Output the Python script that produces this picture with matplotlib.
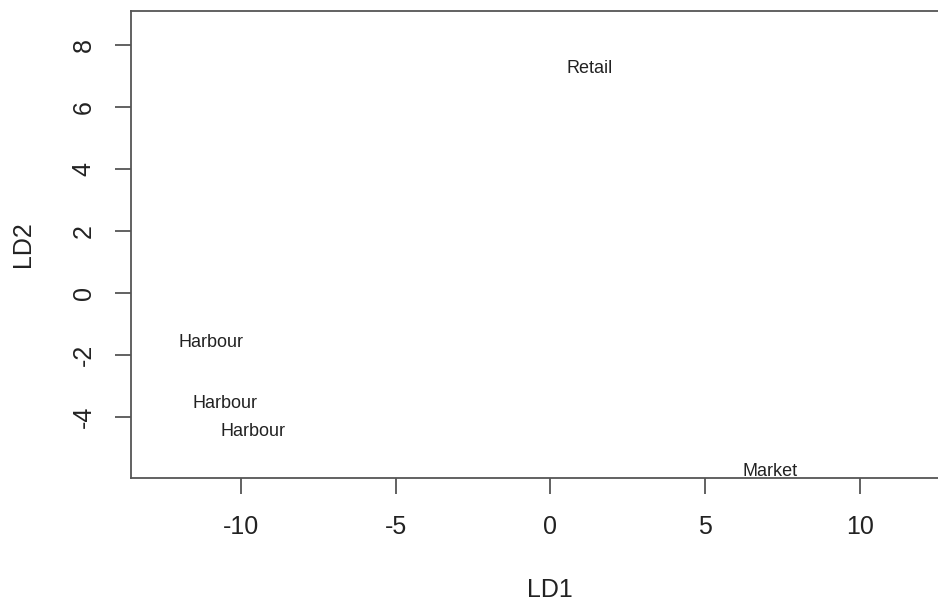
import matplotlib.pyplot as plt

# LDA scores (LD1, LD2) with group labels
groups = ['Retail', 'Harbour', 'Harbour', 'Harbour', 'Market']
ld1 = [1.26, -10.97, -10.52, -9.61, 7.11]
ld2 = [7.29, -1.55, -3.52, -4.42, -5.71]

xticks = [-10, -5, 0, 5, 10]
yticks = [-4, -2, 0, 2, 4, 6, 8]

plt.rcParams['font.family'] = ['Liberation Sans', 'DejaVu Sans']

fig = plt.figure(figsize=(9.38, 6.01), dpi=100)
# plot region runs past the right edge, as in the cropped original
ax = fig.add_axes([131 / 938, 123 / 601, 838 / 938, 467 / 601])

for g, x, y in zip(groups, ld1, ld2):
    ax.text(x, y - 0.05, g, ha='center', va='center', fontsize=13,
            color='#222222')

ax.set_xlim(-13.55, 13.53)
ax.set_ylim(-5.97, 9.1)

ax.set_xticks(xticks)
ax.set_xticklabels([str(t) for t in xticks])
ax.set_yticks(yticks)
ax.set_yticklabels([str(t) for t in yticks], rotation=90, va='center')

for s in ax.spines.values():
    s.set_color('#555555')
    s.set_linewidth(1.3)

ax.tick_params(axis='both', length=11.5, width=1.3, color='#555555',
               labelsize=18, labelcolor='#222222', pad=14)
ax.tick_params(axis='x', pad=15.5)

ax.set_xlabel('LD1', fontsize=18, color='#222222', labelpad=28)
ax.set_ylabel('LD2', fontsize=18, color='#222222', labelpad=26)

fig.savefig('out.png', dpi=100)
